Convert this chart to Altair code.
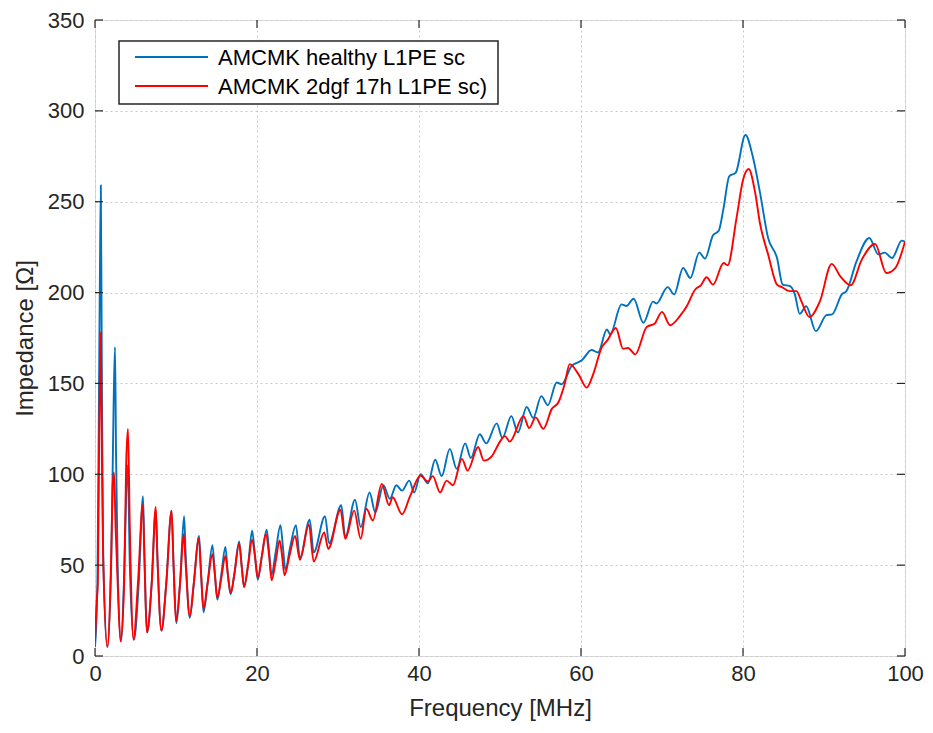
import altair as alt
import pandas as pd

series_names = ["AMCMK healthy L1PE sc", "AMCMK 2dgf 17h L1PE sc)"]
series_colors = ["#0072BD", "#FF0000"]

blue_freq = [0.0, 0.3, 0.5, 0.6, 0.72, 0.85, 1.0, 1.5, 2.0, 2.3, 2.47, 2.6, 2.8, 3.2, 3.6, 3.9, 4.05, 4.3,
             4.8, 5.4, 5.93, 6.1, 6.45, 7.0, 7.5, 7.7, 8.2, 8.8, 9.45, 9.7, 10.05, 10.5, 11.0, 11.2, 11.7,
             12.2, 12.85, 13.1, 13.4, 13.9, 14.5, 14.8, 15.1, 15.6, 16.1, 16.4, 16.75, 17.2, 17.8, 18.1,
             18.4, 18.9, 19.4, 19.75, 20.1, 20.6, 21.2, 21.5, 21.8, 22.3, 22.9, 23.2, 23.5, 24.1, 24.8,
             25.3, 26.5, 27.0, 28.4, 28.9, 30.4, 30.9, 32.1, 32.8, 33.9, 34.6, 35.6, 36.4, 37.2, 37.9,
             38.8, 39.4, 40.2, 41.1, 42.0, 42.8, 43.8, 44.65, 45.7, 46.4, 47.5, 48.3, 49.6, 50.3, 51.4,
             52.2, 53.3, 54.1, 55.1, 55.9, 57.0, 57.6, 58.85, 60.1, 61.3, 62.1, 63.2, 63.6, 65.0, 65.6,
             66.5, 67.7, 68.9, 69.3, 70.7, 71.5, 72.6, 73.5, 74.6, 75.3, 76.3, 77.0, 77.6, 78.3, 79.1,
             80.3, 81.2, 82.1, 83.1, 84.2, 84.9, 85.8, 86.4, 87.0, 87.8, 89.0, 90.3, 91.0, 92.2, 92.8,
             94.0, 95.6, 96.7, 97.5, 98.4, 99.6, 100.0]
blue_imp = [5, 40, 150, 207, 259, 150, 60, 5, 50, 139, 170, 110, 50, 8, 45, 95, 105, 50,
            9, 40, 88, 55, 13, 40, 80, 55, 14, 40, 80, 50, 18, 40, 77, 55, 21,
            40, 66, 45, 24, 40, 61, 45, 31, 45, 60, 45, 34, 45, 63, 50,
            38, 50, 69, 55, 42, 55, 69.5, 57, 44.7, 57, 72, 60, 47.5, 60, 72,
            54, 75, 57, 77, 62, 83, 65.5, 86, 71, 90, 79, 94, 86.5, 94, 91,
            96.5, 90, 100, 95, 108, 99, 114, 103, 117, 109, 122, 117, 128, 120, 132,
            123, 137, 131, 143, 138, 150.5, 149.5, 159.6, 162.7, 168.4, 167, 179.7, 177, 193.5, 192.6,
            196.6, 183.4, 195, 194, 203, 199, 213.5, 208, 222, 218.7, 231.5, 234, 246.5, 264, 266,
            286.7, 275, 255, 230, 219, 204.4, 203.5, 199, 188.3, 192.5, 178.8, 187.6, 188, 199, 201,
            217, 230, 221, 222, 219, 228.6, 228]

red_freq = [0.0, 0.2, 0.35, 0.5, 0.6, 0.72, 0.85, 1.0, 1.55, 2.0, 2.2, 2.35, 2.55, 2.8, 3.15, 3.6, 3.85,
            4.07, 4.3, 4.75, 5.3, 5.9, 6.1, 6.4, 7.0, 7.5, 7.7, 8.2, 8.8, 9.45, 9.7, 10.0, 10.5, 10.95,
            11.2, 11.7, 12.2, 12.8, 13.1, 13.4, 13.9, 14.5, 14.8, 15.1, 15.6, 16.1, 16.4, 16.75, 17.2,
            17.8, 18.1, 18.4, 18.9, 19.4, 19.75, 20.1, 20.6, 21.1, 21.5, 21.8, 22.3, 22.8, 23.1, 23.4,
            24.0, 24.7, 25.3, 26.4, 27.0, 28.3, 28.8, 30.3, 30.9, 32.0, 32.8, 33.5, 34.3, 35.4, 36.3,
            36.75, 37.9, 38.9, 40.2, 41.1, 41.7, 42.6, 43.4, 44.2, 45.3, 46.0, 47.3, 48.0, 49.0, 50.0,
            50.6, 51.2, 52.9, 53.6, 54.4, 55.35, 56.4, 57.2, 58.0, 58.6, 59.7, 60.7, 61.5, 62.55, 63.3,
            64.3, 65.2, 65.8, 66.7, 68.1, 69.1, 70.0, 71.0, 72.2, 73.0, 74.1, 74.8, 75.5, 76.3, 77.6,
            78.1, 79.2, 80.0, 80.7, 81.5, 82.1, 83.1, 84.2, 84.8, 85.8, 86.6, 87.2, 88.2, 89.5, 90.95,
            92.0, 93.3, 94.65, 96.3, 97.7, 98.8, 100.0]
red_imp = [8, 30, 40, 113, 150, 178, 110, 55, 5, 55, 95, 101, 70, 40, 8, 40, 106,
           125, 70, 9, 40, 83, 55, 13, 40, 82, 55, 14, 40, 80, 50, 19, 40, 67,
           50, 22, 40, 65, 45, 26, 40, 56, 45, 32, 43, 55, 45, 34.5, 45,
           62, 50, 38, 50, 64, 55, 43, 55, 67, 55, 41.7, 52, 63.6, 55, 44.4,
           55, 66, 53, 72.4, 52, 68, 59, 80.5, 64.5, 80, 64.5, 81, 74.6, 94.7, 83,
           87.4, 78, 88, 99.3, 96, 99, 90, 96.5, 94, 108.5, 102, 115, 107.5, 110, 118,
           121, 118, 132, 125.4, 131.3, 125, 136, 139.5, 150, 160.6, 155, 147.7, 155, 169.7, 174,
           180.5, 169, 169.5, 166, 181, 183, 189.4, 182, 187, 192, 201.7, 204, 208.4, 204.4, 216.3,
           215, 241, 262, 268, 255, 238, 221, 204.4, 203, 200.8, 200.8, 195.3, 186.5, 195.3, 215.8,
           209, 204, 218, 226.7, 210.8, 213.5, 228]

x_ticks = [0, 20, 40, 60, 80, 100]
y_ticks = [0, 50, 100, 150, 200, 250, 300, 350]

df = pd.concat([
    pd.DataFrame({"freq": blue_freq, "imp": blue_imp, "series": series_names[0]}),
    pd.DataFrame({"freq": red_freq, "imp": red_imp, "series": series_names[1]}),
])

W, H = 810, 636
FONT = "Liberation Sans"
AX = "#262626"

xscale = alt.Scale(domain=[0, 100], nice=False, zero=False)
yscale = alt.Scale(domain=[0, 350], nice=False, zero=False)
cscale = alt.Scale(domain=series_names, range=series_colors)

xaxis = alt.Axis(values=x_ticks, title="Frequency [MHz]", grid=True, gridDash=[2, 3], gridColor="#c8c8c8",
                 gridWidth=1, domain=False, ticks=False, labelFontSize=22, labelFont=FONT, labelColor=AX,
                 labelPadding=7, titleFontSize=24, titleFont=FONT, titleColor=AX, titleFontWeight="normal",
                 titlePadding=12, labelFlush=False)
yaxis = alt.Axis(values=y_ticks, title="Impedance [Ω]", grid=True, gridDash=[2, 3], gridColor="#c8c8c8",
                 gridWidth=1, domain=False, ticks=False, labelFontSize=22, labelFont=FONT, labelColor=AX,
                 labelPadding=11, titleFontSize=24, titleFont=FONT, titleColor=AX, titleFontWeight="normal",
                 titlePadding=10, labelFlush=False)

base = alt.Chart(df)
blue = base.transform_filter(alt.datum.series == series_names[0]).mark_line(
    interpolate="monotone", strokeWidth=1.9, clip=True).encode(
    x=alt.X("freq:Q", scale=xscale, axis=xaxis),
    y=alt.Y("imp:Q", scale=yscale, axis=yaxis),
    color=alt.Color("series:N", scale=cscale, legend=None))
red = base.transform_filter(alt.datum.series == series_names[1]).mark_line(
    interpolate="monotone", strokeWidth=1.9, clip=True).encode(
    x=alt.X("freq:Q", scale=xscale),
    y=alt.Y("imp:Q", scale=yscale),
    color=alt.Color("series:N", scale=cscale, legend=None))

xt = pd.DataFrame({"t": x_ticks})
yt = pd.DataFrame({"t": y_ticks})
tick_bottom = alt.Chart(xt).mark_rule(color=AX, strokeWidth=1.2).encode(
    x=alt.X("t:Q", scale=xscale), y=alt.value(H), y2=alt.value(H - 8))
tick_top = alt.Chart(xt).mark_rule(color=AX, strokeWidth=1.2).encode(
    x=alt.X("t:Q", scale=xscale), y=alt.value(0), y2=alt.value(8))
tick_left = alt.Chart(yt).mark_rule(color=AX, strokeWidth=1.2).encode(
    y=alt.Y("t:Q", scale=yscale), x=alt.value(0), x2=alt.value(8))
tick_right = alt.Chart(yt).mark_rule(color=AX, strokeWidth=1.2).encode(
    y=alt.Y("t:Q", scale=yscale), x=alt.value(W), x2=alt.value(W - 8))

# legend (drawn manually)
leg_df = pd.DataFrame({"label": series_names, "row": [0, 1]})
leg_box = alt.Chart(pd.DataFrame({"label": ["box"]})).mark_rect(
    fill="white", stroke=AX, strokeWidth=1.5).encode(
    x=alt.value(24), x2=alt.value(403), y=alt.value(21), y2=alt.value(84))
leg_layers = [leg_box]
for i, name in enumerate(series_names):
    yy = 37 + 29 * i
    d = leg_df[leg_df["row"] == i]
    leg_layers.append(alt.Chart(d).mark_rule(strokeWidth=1.9, color=series_colors[i]).encode(
        x=alt.value(40), x2=alt.value(113), y=alt.value(yy)))
    leg_layers.append(alt.Chart(d).mark_text(align="left", baseline="middle", fontSize=22, font=FONT,
                                             color="black").encode(
        x=alt.value(123), y=alt.value(yy + 1), text="label:N"))

chart = alt.layer(blue, red, tick_bottom, tick_top, tick_left, tick_right, *leg_layers).properties(
    width=W, height=H,
    autosize=alt.AutoSizeParams(type="none"),
    padding={"left": 87, "top": 12, "right": 20, "bottom": 72},
).configure_view(stroke=AX, strokeWidth=1.5).configure(background="white")

chart.save("out.html", embed_options={"renderer": "svg", "actions": False})
